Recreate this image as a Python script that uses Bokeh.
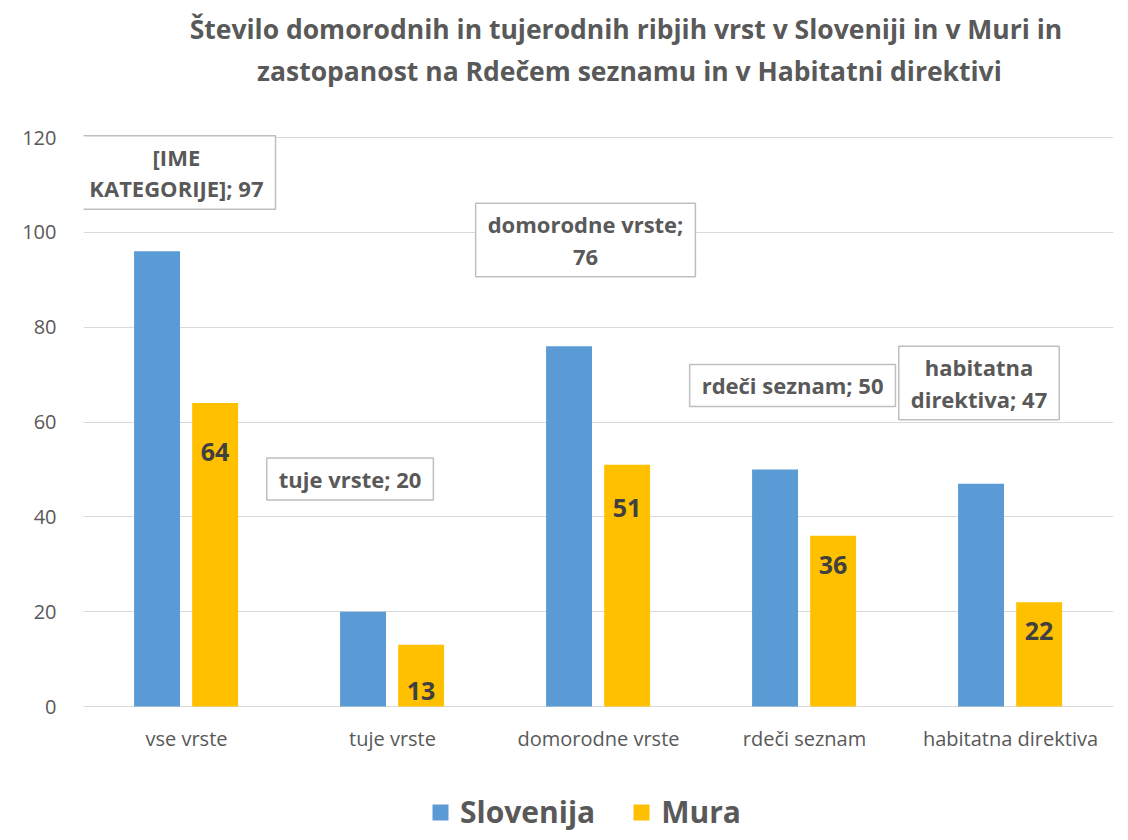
from bokeh.plotting import figure
from bokeh.models import (ColumnDataSource, Label, LabelSet, Legend, LegendItem,
                          FixedTicker, Range1d)
from bokeh.core.properties import value
from bokeh.transform import dodge
from bokeh.embed import file_html
from bokeh.resources import INLINE

# ---- data ----
categories = ["vse vrste", "tuje vrste", "domorodne vrste", "rdeči seznam", "habitatna direktiva"]
slovenija = [96, 20, 76, 50, 47]
mura = [64, 13, 51, 36, 22]
slovenija_labels = ["[IME\nKATEGORIJE]; 97", "tuje vrste; 20", "domorodne vrste;\n76",
                    "rdeči seznam; 50", "habitatna\ndirektiva; 47"]
mura_labels = ["64", "13", "51", "36", "22"]
y_ticks = [0, 20, 40, 60, 80, 100, 120]
title_lines = ["Število domorodnih in tujerodnih ribjih vrst  v Sloveniji in v Muri in",
               "zastopanost na Rdečem seznamu in v Habitatni direktivi"]
series_names = ["Slovenija", "Mura"]

# ---- layout / style (not data) ----
BLUE = "#5B9BD5"
GOLD = "#FFC000"
GRAY = "#595959"
DARK = "#404040"
FONT = "Open Sans"
W, H = 1120, 832
FRAME_L, FRAME_R = 83, 1113
Y0_PX, Y120_PX = 706, 137
ppu = (Y0_PX - Y120_PX) / 120.0
y_lo = -(H - Y0_PX) / ppu
y_hi = Y0_PX / ppu

callout_dx = [0.094, -0.063, 0.08, 0.085, -0.01]   # offsets from the Slovenija bar (category units)
callout_dy = [16.6, 28.0, 22.4, 17.7, 21.2]         # offsets above the Slovenija bar (value units)
mura_label_px = [-49, -46, -43, -29, -29]           # label offset from bar top (px)

src = ColumnDataSource(dict(cat=categories, slo=slovenija, mura=mura,
                            mtxt=mura_labels, moff=mura_label_px))

p = figure(x_range=categories, y_range=Range1d(y_lo, y_hi), width=W, height=H,
           output_backend="svg", toolbar_location=None, x_axis_location=None,
           min_border_left=FRAME_L, min_border_right=W - FRAME_R,
           min_border_top=0, min_border_bottom=0)
p.outline_line_color = None
p.background_fill_color = "white"
p.border_fill_color = "white"

r1 = p.vbar(x=dodge("cat", -0.143, range=p.x_range), top="slo", width=0.223,
            source=src, fill_color=BLUE, line_color=None)
r2 = p.vbar(x=dodge("cat", 0.139, range=p.x_range), top="mura", width=0.223,
            source=src, fill_color=GOLD, line_color=None)

# axes / grid
p.xgrid.grid_line_color = None
p.ygrid.grid_line_color = "#D9D9D9"
p.ygrid.grid_line_width = 1
p.yaxis.ticker = FixedTicker(ticks=y_ticks)
ax = p.yaxis[0]
ax.axis_line_color = None
ax.major_tick_line_color = None
ax.minor_tick_line_color = None
ax.major_label_text_font = FONT
ax.major_label_text_font_size = "20px"
ax.major_label_text_color = GRAY
ax.major_label_standoff = 21

# category labels under the baseline
p.add_layout(LabelSet(x="cat", y=0, text="cat", y_offset=-32, source=src,
                      text_align="center", text_baseline="middle",
                      text_font=value(FONT), text_font_size=value("20px"),
                      text_color=GRAY))

# Mura value labels
p.add_layout(LabelSet(x=dodge("cat", 0.139, range=p.x_range), y="mura", text="mtxt",
                      y_offset="moff", source=src, text_align="center", text_baseline="middle",
                      text_font=value(FONT), text_font_style="bold", text_font_size=value("25px"),
                      text_color=DARK))

# Slovenija callouts
for i, (txt, v) in enumerate(zip(slovenija_labels, slovenija)):
    lab = Label(x=i + 0.5 - 0.143 + callout_dx[i], y=v + callout_dy[i], text=txt,
                text_align="center", text_baseline="middle",
                text_font=FONT, text_font_style="bold", text_font_size="22px",
                text_color=GRAY, text_line_height=1.05,
                background_fill_color="white", border_line_color="#BFBFBF",
                border_line_width=1.5, padding=(12, 6))
    p.add_layout(lab)

# title
for line, yy in zip(title_lines, [142.8, 134.1]):
    p.add_layout(Label(x=2.65, y=yy, text=line, text_align="center", text_baseline="middle",
                       text_font=FONT, text_font_style="bold", text_font_size="26.5px",
                       text_color=GRAY))

legend = Legend(items=[LegendItem(label=series_names[0], renderers=[r1]),
                       LegendItem(label=series_names[1], renderers=[r2])],
                location=(347, 0), orientation="horizontal",
                glyph_width=20, glyph_height=20, label_standoff=10, spacing=36,
                padding=0, margin=0, border_line_color=None, background_fill_alpha=0,
                label_text_font=FONT, label_text_font_style="bold",
                label_text_font_size="30px", label_text_color=GRAY)
p.add_layout(legend, "center")

open("out.html", "w").write(file_html(p, INLINE))
